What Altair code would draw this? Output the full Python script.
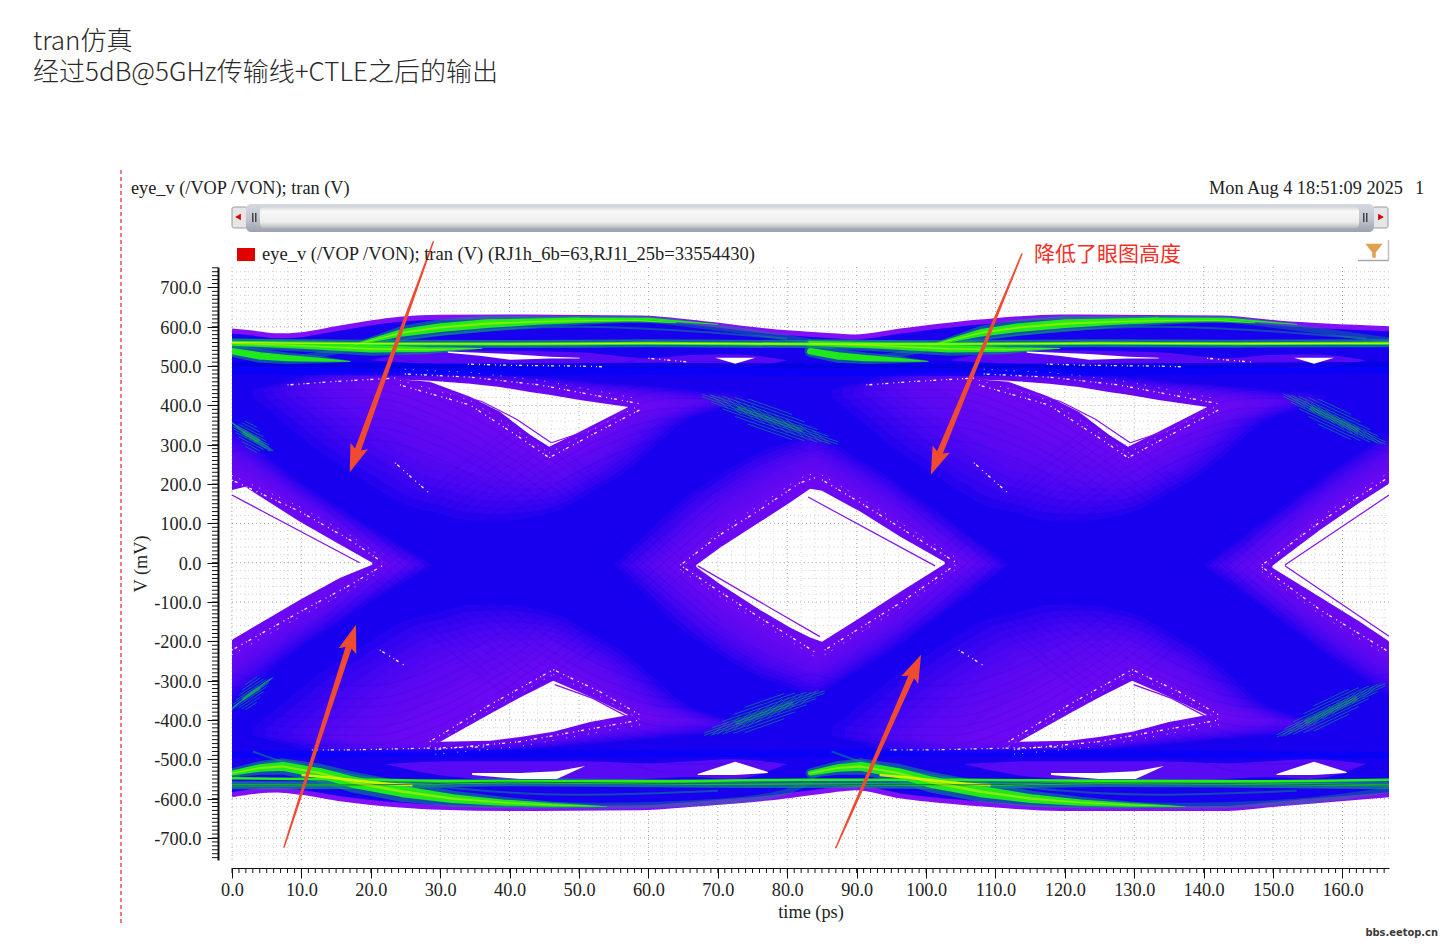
import altair as alt
import numpy as np
import pandas as pd

# ---------- axes ----------
X_DOMAIN = [0, 166.7]
Y_DOMAIN = [-756, 752]
X_TICKS = list(range(0, 170, 10))
Y_TICKS = list(range(-700, 800, 100))
X_MINOR = list(range(0, 167, 1))
Y_MINOR = list(range(-750, 751, 10))
GRID_X = list(range(0, 167, 2))
GRID_Y = list(range(-740, 741, 20))

# ---------- envelope ----------
ENV_T = [0, 3, 6.5, 10, 15.6, 24.2, 30, 40, 58.8, 67.4, 79, 86, 89.8, 96.3, 107.8, 119.3, 142.4, 151, 166.7]
ENV_TOP = [592, 587, 580, 583, 600, 622, 627, 628, 625, 612, 589, 581, 577, 592, 615, 628, 625, 612, 598]
ENV_BOT = [-593, -585, -581, -587, -603, -619, -625, -628, -626, -616, -598, -582, -575, -596, -616, -628, -628, -616, -593]

# ---------- eyes ----------
E0_T = [0, 1.9, 9.8, 15.6, 20.2]
E0_TOP = [185, 193, 104, 46, 0]
E0_BOT = [-196, -176, -94, -38, -5]
E1_T = [66.9, 70.3, 76.1, 80.4, 83.3, 85, 90.5, 96.3, 102.7]
E1_TOP = [-6, 38, 104, 153, 188, 183, 130, 66, 2]
E1_BOT = [-11, -54, -120, -165, -190, -201, -140, -74, -3]
E2_T = [149.9, 156.8, 162.5, 166.7]
E2_TOP = [-8, 84, 153, 201]
E2_BOT = [-13, -88, -150, -200]
U1_T = [24.9, 28.5, 34.3, 38.6, 42.9, 45.7, 50.1, 57.1]
U1_TOP = [465, 463, 455, 447, 434, 427, 414, 396]
U1_BOT = [465, 460, 422, 384, 326, 295, 333, 396]
U2_T = [108.3, 111.9, 117.7, 122, 126.3, 129.1, 133.5, 140.5]
U2_TOP = [465, 463, 455, 447, 434, 427, 414, 396]
U2_BOT = [465, 460, 422, 384, 326, 295, 333, 396]
L1_T = [30, 37.2, 41.5, 46.3, 51.6, 57.1]
L1_TOP = [-455, -384, -343, -300, -341, -387]
L1_BOT = [-455, -453, -443, -430, -405, -387]
L2_T = [113.4, 120.6, 124.9, 129.7, 135, 140.5]
L2_TOP = [-455, -384, -343, -300, -341, -387]
L2_BOT = [-455, -453, -443, -430, -405, -387]
S1_T = [31.1, 35.7, 40.1, 45.8, 50.1]
S1_TOP = [537, 534, 531, 524, 521]
S1_BOT = [534, 526, 516, 519, 519]
S2_T = [114.5, 119.1, 123.5, 129.2, 133.5]
S2_TOP = [537, 534, 531, 524, 521]
S2_BOT = [534, 526, 516, 519, 519]
SA_T = [69.6, 72.5, 75.4]
SA_TOP = [521, 521, 521]
SA_BOT = [521, 506, 521]
SB_T = [153, 155.9, 158.8]
SB_TOP = [521, 521, 521]
SB_BOT = [521, 506, 521]
LS1_T = [34.6, 41.5, 46.8, 50.9]
LS1_TOP = [-535, -535, -530, -517]
LS1_BOT = [-540, -550, -550, -517]
LS2_T = [118, 124.9, 130.2, 134.3]
LS2_TOP = [-535, -535, -530, -517]
LS2_BOT = [-540, -550, -550, -517]
LA_T = [67.1, 72.5, 77.2]
LA_TOP = [-537, -506, -532]
LA_BOT = [-540, -540, -535]
LB_T = [150.5, 155.9, 160.6]
LB_TOP = [-537, -506, -532]
LB_BOT = [-540, -540, -535]

# ---------- outer limit of the purple, low-density region round each eye ----------
HE1_T = [55, 65, 75, 84, 94, 104, 112]
HE1_TOP = [-6, 165, 275, 330, 225, 100, -6]
HE1_BOT = [-6, -175, -285, -340, -235, -110, -6]
HE0_T = [0, 9.8, 20, 29]
HE0_TOP = [340, 205, 90, -6]
HE0_BOT = [-350, -215, -100, -6]
HE2_T = [140, 149, 159, 166.7]
HE2_TOP = [-6, 110, 240, 330]
HE2_BOT = [-6, -120, -250, -340]
HU1_T = [3, 12, 24.2, 35.7, 45.8, 55.9, 66, 74]
HU2_T = [86.4, 95.4, 107.6, 119.1, 129.2, 139.3, 149.4, 157.4]
HU_TOP = [440, 482, 488, 482, 470, 455, 440, 425]
HU_BOT = [420, 290, 150, 100, 120, 220, 370, 410]
HL1_T = [3, 12, 24.2, 35.7, 45.8, 55.9, 66, 74]
HL2_T = [86.4, 95.4, 107.6, 119.1, 129.2, 139.3, 149.4, 157.4]
HL_TOP = [-420, -290, -150, -100, -120, -220, -370, -410]
HL_BOT = [-440, -482, -488, -482, -470, -455, -440, -425]
HS1_T = [20, 30, 50, 60, 66, 72, 80]
HS2_T = [103.4, 113.4, 133.4, 143.4, 149.4, 155.4, 163.4]
HS_TOP = [515, 540, 535, 520, 528, 530, 515]
HS_BOT = [515, 505, 500, 500, 498, 495, 515]
HL3_T = [22, 32, 50, 60, 66, 72, 80]
HL4_T = [105.4, 115.4, 133.4, 143.4, 149.4, 155.4, 163.4]
HLS_TOP = [-512, -505, -505, -510, -505, -500, -512]
HLS_BOT = [-512, -545, -560, -550, -545, -550, -512]

# ---------- streak curves of the transitions ----------
STREAK_T = [0, 10, 20, 30, 40, 50, 60, 70]
STREAK_V = [400, 430, 430, 380, 280, 150, 0, -150]
STREAK_OFFSETS = [-118, -85, -64, -37, -12, 9, 33, 58, 81, 103]

# ---------- density traces ----------
TOP_FLAT_T = [0, 20, 40, 60, 83, 105, 125, 145, 166.7]
TOP_FLAT_V = [560, 557, 556, 558, 556, 556, 558, 557, 558]
TOP_ARC1_T = [0, 8, 13, 17.4, 24.6, 36.7, 51.2, 58.8, 67.4, 76.1, 83.3]
TOP_ARC1_V = [534, 520, 530, 549, 585, 610, 618, 618, 603, 583, 562]
TOP_ARC2_T = [83.3, 91.3, 96.4, 100.8, 108, 120.1, 134.6, 142.2, 150.8, 159.5, 166.7]
TOP_ARC2_V = [534, 520, 530, 549, 585, 610, 618, 618, 603, 583, 565]
TOP_SUB1_T = [17, 24, 36, 50, 65, 80]
TOP_SUB2_T = [100.4, 107.4, 119.4, 133.4, 148.4, 163.4]
TOP_SUB_V = [545, 565, 590, 600, 590, 570]
TOP_DARK_T = [0, 30, 60, 90, 120, 150, 166.7]
TOP_DARK_V = [505, 500, 502, 500, 500, 503, 505]
DEEP_TOP_V = [488, 484, 486, 484, 484, 488, 490]
DEEP_BOT_V = [-488, -484, -486, -484, -484, -488, -490]
BOT_FLAT_T = [0, 20, 40, 60, 83, 105, 125, 145, 166.7]
BOT_FLAT_V = [-548, -552, -556, -556, -552, -552, -555, -556, -552]
BOT_LINE_V = [-566, -565, -558, -561, -563, -565, -560, -562, -566]
BOT_ARC1_T = [0, 7.3, 12.7, 17.4, 24.6, 31.8, 39, 53, 70, 80, 83.3]
BOT_ARC1_V = [-540, -510, -535, -560, -585, -603, -612, -618, -608, -582, -555]
BOT_ARC2_T = [83.3, 90.7, 96, 100.8, 108, 115.2, 122.4, 136.4, 153, 166.7]
BOT_ARC2_V = [-545, -510, -535, -560, -585, -603, -612, -618, -608, -578]
BOT_DIM1_T = [3, 8, 14, 30, 50, 70]
BOT_DIM2_T = [86.4, 91.4, 97.4, 113.4, 133.4, 153.4]
BOT_DIM_V = [-480, -510, -530, -570, -590, -580]
BOT_HOT1_T = [10, 15, 20, 26]
BOT_HOT2_T = [93.3, 98.3, 103.3, 109.3]
BOT_HOT_V = [-540, -548, -558, -566]

# ---------- tapered bright bands: t, v, width ----------
GREEN_BANDS = [
    ([16, 20, 24.6, 30, 36.7, 44, 51.2, 58, 64], [546, 565, 585, 598, 608, 613, 616, 617, 610], [.5, 3, 6, 7, 7, 5, 3.5, 2, .5]),
    ([99.4, 103.4, 108, 113.4, 120.1, 127.4, 134.6, 141.4, 147.4], [546, 565, 585, 598, 608, 613, 616, 617, 610], [.5, 3, 6, 7, 7, 5, 3.5, 2, .5]),
    ([24, 36, 50, 60, 70], [590, 612, 620, 620, 606], [.5, 2, 2.5, 2, .5]),
    ([107.4, 119.4, 133.4, 143.4, 153.4], [590, 612, 620, 620, 606], [.5, 2, 2.5, 2, .5]),
    ([0, 4, 8, 13, 17], [538, 526, 520, 516, 512], [5, 6, 5, 3, .5]),
    ([83.3, 87.3, 91.3, 96.3, 100.3], [538, 526, 520, 516, 512], [5, 6, 5, 3, .5]),
    ([0, 10, 20, 28, 36], [558, 552, 544, 542, 545], [4, 5, 6, 4, .5]),
    ([83.3, 93.3, 103.3, 111.3, 119.3], [558, 552, 544, 542, 545], [4, 5, 6, 4, .5]),
    ([0, 4, 7.3, 12.7, 17.4, 24.6, 31.8, 39, 46, 54], [-535, -522, -518, -535, -558, -582, -600, -610, -616, -620], [4, 6, 7, 8, 9, 9, 7, 5, 3, .5]),
    ([83.3, 87.3, 90.6, 96, 100.7, 107.9, 115.1, 122.3, 129.3, 137.3], [-535, -522, -518, -535, -558, -582, -600, -610, -616, -620], [4, 6, 7, 8, 9, 9, 7, 5, 3, .5]),
]
GLOW_SCALE = 2.3
BAND_SCALE = 1.25
CORE_SCALE = .3

# ---------- hatch patches at the crossings: t0, v0, t1, v1 ----------
HATCH_T0 = [67, 151, 0, 67.4, 150, 0]
HATCH_V0 = [430, 430, 345, -440, -445, -365]
HATCH_T1 = [88, 166.7, 5.5, 86, 166.7, 5.5]
HATCH_V1 = [300, 300, 295, -325, -305, -300]
HATCH_OFFSETS = [-32, -24, -16, -9, -3, 3, 9, 16, 24, 32]
HATCH_POS = [-.7, -.55, -.4, -.27, -.13, 0, .13, .27, .4, .55, .7]

# ---------- white dotted rings ----------
RINGS = [
    ([64.6, 70.3, 76.1, 81.8, 84], [-6, 71, 135, 203, 216]),
    ([85, 90.5, 96.3, 104.2], [211, 153, 89, 2]),
    ([65, 70.3, 76.1, 84], [-11, -74, -140, -227]),
    ([85.4, 90.5, 96.3, 104.2], [-222, -166, -102, -6]),
    ([0, 9.8, 17, 21.6], [210, 130, 58, 2]),
    ([0, 9.8, 17, 21.6], [-222, -125, -57, -8]),
    ([148.4, 156.8, 166.7], [-6, 104, 218]),
    ([148.4, 156.8, 166.7], [-11, -120, -227]),
    ([24.9, 34.3, 44.4, 58.8], [480, 472, 452, 404]),
    ([24.2, 34.3, 41.5, 45.7], [452, 401, 318, 267]),
    ([45.7, 51.6, 58.8], [267, 323, 389]),
    ([108.3, 117.7, 127.8, 142.2], [480, 472, 452, 404]),
    ([107.6, 117.7, 124.9, 129.1], [452, 401, 318, 267]),
    ([129.1, 135, 142.2], [267, 323, 389]),
    ([28.5, 37.2, 46.3], [-455, -361, -272]),
    ([46.3, 53, 58.8], [-272, -328, -387]),
    ([29.3, 41.5, 58.8], [-475, -455, -400]),
    ([111.9, 120.6, 129.7], [-455, -361, -272]),
    ([129.7, 136.4, 142.2], [-272, -328, -387]),
    ([112.7, 124.9, 142.2], [-475, -455, -400]),
]
# ---------- stray white dashes away from the eyes ----------
SPECKS = [
    ([8, 14, 24], [452, 460, 470]), ([91.4, 97.4, 107.4], [452, 460, 470]),
    ([23.5, 28.4], [254, 177]), ([106.9, 111.8], [254, 177]),
    ([21.3, 25.2], [-222, -265]), ([104.7, 108.6], [-222, -265]),
    ([11.5, 17.4, 36.7], [-476, -476, -468]), ([94.9, 100.8, 120.1], [-476, -476, -468]),
    ([34, 40, 50, 54], [505, 502, 500, 498]), ([117.4, 123.4, 133.4, 137.4], [505, 502, 500, 498]),
    ([140.5, 147], [520, 510]), ([60, 66], [520, 510]),
]
# ---------- thin purple traces inside the eyes ----------
THIN = [
    ([83, 101.3], [167, -8]),
    ([67.1, 84.7], [-8, -188]),
    ([0, 18.4], [172, 0]),
    ([166.7, 151.7], [172, -6]),
    ([166.7, 151.7], [-187, -8]),
    ([28, 36, 41, 46], [448, 410, 365, 305]),
    ([111.4, 119.4, 124.4, 129.4], [448, 410, 365, 305]),
    ([46, 52, 57], [305, 340, 390]),
    ([129.4, 135.4, 140.4], [305, 340, 390]),
    ([46.5, 52, 57], [-310, -345, -392]),
    ([129.9, 135.4, 140.4], [-310, -345, -392]),
]
# ---------- annotation arrows: tail t, tail v, head t, head v, head angle ----------
ARROW_T0 = [29, 113.8, 7.5, 87]
ARROW_V0 = [816, 785, -723, -725]
ARROW_T1 = [17.7, 101.5, 17.2, 98.4]
ARROW_V1 = [266, 259, -194, -269]
ARROW_ANGLE = [200, 202, 18, 24]

TITLE_1 = "tran仿真"
TITLE_2 = "经过5dB@5GHz传输线+CTLE之后的输出"
HEAD_L = "eye_v (/VOP /VON); tran (V)"
HEAD_R = "Mon Aug 4 18:51:09 2025"
HEAD_N = "1"
LEGEND = "eye_v (/VOP /VON); tran (V) (RJ1h_6b=63,RJ1l_25b=33554430)"
NOTE = "降低了眼图高度"
MARK = "bbs.eetop.cn"

BLUE = "#1800ee"
PURPLE = "#8210f6"
TEAL = "#0f8f84"
GREEN = "#22f012"
YELLOW = "#e4f000"
OX, OY = 232, 267
SERIF = "Liberation Serif"
CJK = "Noto Sans CJK SC"
FS = 18.3

xs = alt.Scale(domain=X_DOMAIN, nice=False, zero=False)
ys = alt.Scale(domain=Y_DOMAIN, nice=False, zero=False)
X = lambda f: alt.X(f, type="quantitative", scale=xs, axis=None)
Y = lambda f: alt.Y(f, type="quantitative", scale=ys, axis=None)
one = alt.Data(values=[{"a": 1}])


def areas(items, interpolate="monotone"):
    rows = []
    for k, (t, top, bot, color, op) in enumerate(items):
        for a, b, c in zip(t, top, bot):
            rows.append(dict(id=k, t=float(a), hi=float(b), lo=float(c), c=color, o=op))
    return (alt.Chart(pd.DataFrame(rows)).mark_area(interpolate=interpolate)
            .encode(x=X("t"), y=Y("hi"), y2=alt.Y2("lo"),
                    fill=alt.Fill("c:N", scale=None), opacity=alt.Opacity("o:Q", scale=None),
                    detail="id:N"))


def lines(items, dash=None, interpolate="monotone"):
    rows = []
    for k, (t, v, color, w, op) in enumerate(items):
        for i, (a, b) in enumerate(zip(t, v)):
            rows.append(dict(id=k, i=i, t=float(a), v=float(b), c=color, w=w, o=op))
    kw = dict(interpolate=interpolate, strokeCap="butt", clip=True)
    if dash:
        kw["strokeDash"] = dash
    return (alt.Chart(pd.DataFrame(rows)).mark_line(**kw)
            .encode(x=X("t"), y=Y("v"), order="i:Q",
                    stroke=alt.Stroke("c:N", scale=None), strokeWidth=alt.StrokeWidth("w:Q", scale=None),
                    opacity=alt.Opacity("o:Q", scale=None), detail="id:N"))


def trails(items, color, opacity=1, scale=1.0, clip=True):
    rows = []
    for k, (t, v, w) in enumerate(items):
        for i, (a, b, c) in enumerate(zip(t, v, w)):
            rows.append(dict(id=k, i=i, t=a, v=b, w=c * scale))
    return alt.Chart(pd.DataFrame(rows)).mark_trail(color=color, opacity=opacity, clip=clip).encode(
        x=X("t"), y=Y("v"), size=alt.Size("w:Q", scale=None), order="i:Q", detail="id:N")


def px_rect(x0, x1, y0, y1, fill, **kw):
    return alt.Chart(one).mark_rect(fill=fill, **kw).encode(
        x=alt.value(x0 - OX), x2=alt.value(x1 - OX), y=alt.value(y0 - OY), y2=alt.value(y1 - OY))


def px_text(s, x, y, size, font=SERIF, color="#222222", align="left", **kw):
    return alt.Chart(one).mark_text(text=s, font=font, fontSize=size, color=color, align=align,
                                    baseline="middle", **kw).encode(x=alt.value(x - OX), y=alt.value(y - OY))


def px_rule(x0, x1, y0, y1, color, w=1, **kw):
    return alt.Chart(one).mark_rule(color=color, strokeWidth=w, **kw).encode(
        x=alt.value(x0 - OX), x2=alt.value(x1 - OX), y=alt.value(y0 - OY), y2=alt.value(y1 - OY))


def px_point(x, y, shape, size, color):
    return alt.Chart(one).mark_point(shape=shape, size=size, filled=True, color=color, opacity=1, strokeWidth=0).encode(
        x=alt.value(x - OX), y=alt.value(y - OY))


def nested(outer, eye, levels=(0, .07, .14, .21, .28, .35, .42, .5, .58, .66, .74, .82), op=.13):
    """Purple shells stepping from a region's outer limit in to the eye outline."""
    s = np.linspace(0, 1, 17)
    ot, otop, obot = outer
    et, etop, ebot = eye
    xo = ot[0] + s * (ot[-1] - ot[0])
    xe = et[0] + s * (et[-1] - et[0])
    a1, a2 = np.interp(xo, ot, otop), np.interp(xo, ot, obot)
    b1, b2 = np.interp(xe, et, etop), np.interp(xe, et, ebot)
    return [(xo + f * (xe - xo), a1 + f * (b1 - a1), a2 + f * (b2 - a2), PURPLE, op) for f in levels]


# axes ------------------------------------------------------------------
neg_lab = "datum.value < 0 ? '-' + format(abs(datum.value), '.1f') : format(datum.value, '.1f')"
axes = alt.Chart(pd.DataFrame({"t": [0.0], "v": [0.0]})).mark_point(opacity=0).encode(
    x=alt.X("t:Q", scale=xs, title="time (ps)", axis=alt.Axis(
        values=X_TICKS, grid=False, offset=8, tickSize=10, tickColor="#111111", domainColor="#111111",
        labelFont=SERIF, labelFontSize=FS, labelColor="#222222", labelPadding=3, labelFlush=False,
        labelOverlap=False, titleFont=SERIF, titleFontSize=FS, titleFontWeight="normal", titleColor="#222222",
        titlePadding=5, format=".1f")),
    y=alt.Y("v:Q", scale=ys, title="V (mV)", axis=alt.Axis(
        values=Y_TICKS, grid=False, offset=14, tickSize=11, tickColor="#111111", domainColor="#111111",
        domainWidth=2, labelFont=SERIF, labelFontSize=FS, labelColor="#222222", labelPadding=6, labelOffset=1.5,
        labelExpr=neg_lab, labelOverlap=False, titleFont=SERIF, titleFontSize=FS, titleFontWeight="normal",
        titleColor="#222222", titlePadding=3)),
)
x_minor = alt.Chart(pd.DataFrame({"t": X_MINOR})).mark_rule(color="#111111").encode(
    x=X("t"), y=alt.value(601), y2=alt.value(606))
y_minor = alt.Chart(pd.DataFrame({"v": Y_MINOR})).mark_rule(color="#111111").encode(
    y=Y("v"), x=alt.value(-14), x2=alt.value(-20))

# grid -------------------------------------------------------------------
gx = pd.DataFrame({"t": GRID_X})
gx["c"] = ["#a8a8a8" if t % 10 == 0 else "#d0d0d0" for t in GRID_X]
gy = pd.DataFrame({"v": GRID_Y})
gy["c"] = ["#a8a8a8" if v % 100 == 0 else "#d0d0d0" for v in GRID_Y]
grid_v = alt.Chart(gx).mark_rule(strokeDash=[1, 3]).encode(x=X("t"), color=alt.Color("c:N", scale=None))
grid_h = alt.Chart(gy).mark_rule(strokeDash=[1, 3]).encode(y=Y("v"), color=alt.Color("c:N", scale=None))

# eye regions --------------------------------------------------------------
E0 = (E0_T, E0_TOP, E0_BOT); E1 = (E1_T, E1_TOP, E1_BOT); E2 = (E2_T, E2_TOP, E2_BOT)
U1 = (U1_T, U1_TOP, U1_BOT); U2 = (U2_T, U2_TOP, U2_BOT); L1 = (L1_T, L1_TOP, L1_BOT); L2 = (L2_T, L2_TOP, L2_BOT)
EYES = [E0, E1, E2, U1, U2, L1, L2,
        (S1_T, S1_TOP, S1_BOT), (S2_T, S2_TOP, S2_BOT), (SA_T, SA_TOP, SA_BOT), (SB_T, SB_TOP, SB_BOT),
        (LS1_T, LS1_TOP, LS1_BOT), (LS2_T, LS2_TOP, LS2_BOT), (LA_T, LA_TOP, LA_BOT), (LB_T, LB_TOP, LB_BOT)]

envelope = areas([(ENV_T, ENV_TOP, ENV_BOT, BLUE, 1)])
env_edge = lines([(ENV_T, [v - 3 for v in ENV_TOP], PURPLE, 5, 1), (ENV_T, [v + 3 for v in ENV_BOT], PURPLE, 5, 1)])
halo_items = (
    nested((HE0_T, HE0_TOP, HE0_BOT), E0) + nested((HE1_T, HE1_TOP, HE1_BOT), E1) + nested((HE2_T, HE2_TOP, HE2_BOT), E2)
    + nested((HU1_T, HU_TOP, HU_BOT), U1) + nested((HU2_T, HU_TOP, HU_BOT), U2)
    + nested((HL1_T, HL_TOP, HL_BOT), L1) + nested((HL2_T, HL_TOP, HL_BOT), L2)
    + [(HS1_T, HS_TOP, HS_BOT, PURPLE, .6), (HS2_T, HS_TOP, HS_BOT, PURPLE, .6),
       (HL3_T, HLS_TOP, HLS_BOT, PURPLE, .6), (HL4_T, HLS_TOP, HLS_BOT, PURPLE, .6)]
)
halos = areas(halo_items)

streaks = []
for shift in (0, 83.3):
    for off in STREAK_OFFSETS:
        shaped = [v + off for v in STREAK_V]
        streaks.append(([t + shift for t in STREAK_T], shaped, "#0000f0", 1.5, .1))
        streaks.append(([t + shift for t in STREAK_T], [-v for v in shaped], "#0000f0", 1.5, .1))
        mirrored = [83.3 - t + shift for t in STREAK_T]
        streaks.append((mirrored, shaped, "#0000f0", 1.5, .1))
        streaks.append((mirrored, [-v for v in shaped], "#0000f0", 1.5, .1))

under = [
    (TOP_DARK_T, DEEP_TOP_V, "#0000ff", 7, .6), (TOP_DARK_T, DEEP_BOT_V, "#0000ff", 7, .6),
    (TOP_DARK_T, TOP_DARK_V, "#0000e0", 5, .8),
    (TOP_SUB1_T, TOP_SUB_V, TEAL, 2, .5), (TOP_SUB2_T, TOP_SUB_V, TEAL, 2, .5),
    (TOP_ARC1_T, TOP_ARC1_V, TEAL, 6, .4), (TOP_ARC2_T, TOP_ARC2_V, TEAL, 6, .4),
    (TOP_FLAT_T, TOP_FLAT_V, TEAL, 8, .7),
    (BOT_DIM1_T, BOT_DIM_V, TEAL, 2, .5), (BOT_DIM2_T, BOT_DIM_V, TEAL, 2, .5),
    (BOT_ARC1_T, BOT_ARC1_V, TEAL, 6, .4), (BOT_ARC2_T, BOT_ARC2_V, TEAL, 6, .4),
    (BOT_FLAT_T, BOT_LINE_V, TEAL, 8, .7),
]
over = [
    (TOP_FLAT_T, TOP_FLAT_V, GREEN, 3, 1), (TOP_FLAT_T, TOP_FLAT_V, YELLOW, 1.1, 1),
    (BOT_FLAT_T, BOT_FLAT_V, GREEN, 2.5, 1), (BOT_FLAT_T, BOT_LINE_V, GREEN, 2, .85),
    (BOT_HOT1_T, BOT_HOT_V, YELLOW, 2.5, .9), (BOT_HOT2_T, BOT_HOT_V, YELLOW, 2.5, .9),
    (BOT_FLAT_T, BOT_LINE_V, "#0a3a50", 1, .7),
]

hatch = []
for a, b, c, d in zip(HATCH_T0, HATCH_V0, HATCH_T1, HATCH_V1):
    mid_t, mid_v = (a + c) / 2, (b + d) / 2
    span_t, span_v = (c - a) / 2, (d - b) / 2
    sgn = np.sign(d - b)
    for off in HATCH_OFFSETS:
        k = 1 - abs(off) / 46
        hatch.append((np.clip([mid_t - span_t * k, mid_t + span_t * k], 0, 166.7),
                      [mid_v - span_v * k + off, mid_v + span_v * k + off], TEAL, 1, .65))
    for f in HATCH_POS:
        ct, cv = mid_t + f * span_t, mid_v + f * span_v
        k = 1 - abs(f) * .7
        hatch.append((np.clip([ct - 2.6 * k, ct + 2.6 * k], 0, 166.7),
                      [cv - sgn * 36 * k, cv + sgn * 36 * k], TEAL, 1, .6))
    hatch.append(([mid_t - span_t * .45, mid_t + span_t * .45],
                  [mid_v - span_v * .45, mid_v + span_v * .45], GREEN, 5, .22))

edge_white = [([0, 0], [E0_TOP[0], E0_BOT[0]], "#ffffff", 2, 1), ([166.7, 166.7], [E2_TOP[-1], E2_BOT[-1]], "#ffffff", 2, 1)]
white_eyes = areas([(t, a, b, "#ffffff", 1) for t, a, b in EYES], interpolate="linear")
thin = lines([(t, v, PURPLE, 1.2, 1) for t, v in THIN], interpolate="linear")
ring_a = lines([(t, v, "#ffffff", 1.3, .95) for t, v in RINGS + SPECKS], dash=[1, 2, 3, 5, 1, 4], interpolate="linear")
ring_b = lines([(t, [y + (12 if y > 0 else -12) for y in v], "#ffffff", 1, .75) for t, v in RINGS],
               dash=[1, 7, 1, 13], interpolate="linear")

# grid showing through the eye openings, cut to each opening's outline
segs = []
for t, top, bot in EYES[:7]:
    for g in GRID_X:
        if t[0] <= g <= t[-1]:
            segs.append(dict(t=g, t2=g, v=float(np.interp(g, t, bot)), v2=float(np.interp(g, t, top)),
                             c="#a8a8a8" if g % 10 == 0 else "#d0d0d0"))
    fine = np.linspace(t[0], t[-1], 500)
    hi, lo = np.interp(fine, t, top), np.interp(fine, t, bot)
    for g in GRID_Y:
        m = (lo <= g) & (g <= hi)
        if m.any():
            segs.append(dict(t=float(fine[m].min()), t2=float(fine[m].max()), v=g, v2=g,
                             c="#a8a8a8" if g % 100 == 0 else "#d0d0d0"))
eye_grid = alt.Chart(pd.DataFrame(segs)).mark_rule(strokeDash=[1, 3]).encode(
    x=X("t"), x2="t2:Q", y=Y("v"), y2="v2:Q", color=alt.Color("c:N", scale=None))

ARROW_RED = "#f04a30"
arrow_shafts = trails([([a, c], [b, d], [1.5, 6.5]) for a, b, c, d in zip(ARROW_T0, ARROW_V0, ARROW_T1, ARROW_V1)],
                      ARROW_RED, clip=False)
arrow_heads = alt.Chart(pd.DataFrame({"t": ARROW_T1, "v": ARROW_V1, "a": ARROW_ANGLE})).mark_point(
    shape="M0,-1 L0.62,0.85 L0,0.5 L-0.62,0.85 Z", size=900, filled=True, color=ARROW_RED, opacity=1, strokeWidth=0
).encode(x=X("t"), y=Y("v"), angle=alt.Angle("a:Q", scale=None))

track_fill = alt.Gradient(gradient="linear", x1=0, x2=0, y1=0, y2=1, stops=[
    alt.GradientStop(offset=0, color="#d4d8e0"), alt.GradientStop(offset=.5, color="#c4c8d0"),
    alt.GradientStop(offset=1, color="#9aa2ae")])
pill_fill = alt.Gradient(gradient="linear", x1=0, x2=0, y1=0, y2=1, stops=[
    alt.GradientStop(offset=0, color="#d8d8d8"), alt.GradientStop(offset=.2, color="#f8f8f8"),
    alt.GradientStop(offset=.7, color="#eeeeee"), alt.GradientStop(offset=1, color="#bcbcbc")])

chrome = [
    px_rule(121, 121, 170, 926, "#e8202c", 1.2, strokeDash=[4, 3]),
    px_text(TITLE_1, 33, 42, 26, font=CJK, color="#2a2a2a", fontWeight=300),
    px_text(TITLE_2, 33, 73, 26, font=CJK, color="#2a2a2a", fontWeight=300),
    px_text(HEAD_L, 131, 189, FS),
    px_text(HEAD_R, 1209, 189, FS),
    px_text(HEAD_N, 1415, 189, FS),
    px_rect(232, 247, 207, 228, "#e6e6e6", stroke="#9a9a9a", cornerRadius=2),
    px_rect(1373, 1388, 207, 228, "#e6e6e6", stroke="#9a9a9a", cornerRadius=2),
    px_rect(246, 1374, 204, 232, track_fill, cornerRadius=5),
    px_rect(260, 1359, 207, 228, pill_fill, cornerRadius=4),
    px_point(238, 217, "triangle-left", 45, "#d80000"),
    px_point(1381, 217, "triangle-right", 45, "#d80000"),
    px_rect(252, 253.5, 213, 222, "#444444"), px_rect(255, 256.5, 213, 222, "#444444"),
    px_rect(1363, 1364.5, 213, 222, "#444444"), px_rect(1366, 1367.5, 213, 222, "#444444"),
    px_rect(237, 255, 248, 261, "#e00000"),
    px_text(LEGEND, 262, 254, 18.5),
    px_text(NOTE, 1034, 255, 21, font=CJK, color="#f03028"),
    px_rule(1358, 1389, 260.5, 260.5, "#a8a8a8", 1.5),
    px_rule(1388.5, 1388.5, 240, 261, "#c0c0c0", 1.5),
    px_point(1374, 249, "M-1,-0.6 L1,-0.6 L0.2,0.4 L0.2,1 L-0.2,1 L-0.2,0.4 Z", 300, "#e0a050"),
    px_text(MARK, 1438, 933, 11, font="DejaVu Sans Condensed", color="#3a3a3a", align="right", fontWeight="bold"),
]

chart = alt.layer(
    axes, x_minor, y_minor, grid_v, grid_h, envelope, halos,
    lines(streaks), env_edge,
    lines(under), lines(hatch, interpolate="linear"),
    trails(GREEN_BANDS, TEAL, .55, GLOW_SCALE), trails(GREEN_BANDS, GREEN, .95, BAND_SCALE),
    lines(over), trails(GREEN_BANDS[:2] + GREEN_BANDS[6:], YELLOW, .5, CORE_SCALE),
    white_eyes, lines(edge_white, interpolate="linear"), eye_grid, thin, ring_a, ring_b, arrow_shafts, arrow_heads,
    *chrome,
).resolve_axis(x="independent", y="independent").properties(
    width=1157, height=593, background="white",
    autosize=alt.AutoSizeParams(type="none"),
    padding={"left": 224, "top": 259, "right": 50, "bottom": 79},
).configure_view(stroke=None)

chart.save("out.html", embed_options={"renderer": "svg", "actions": False})
